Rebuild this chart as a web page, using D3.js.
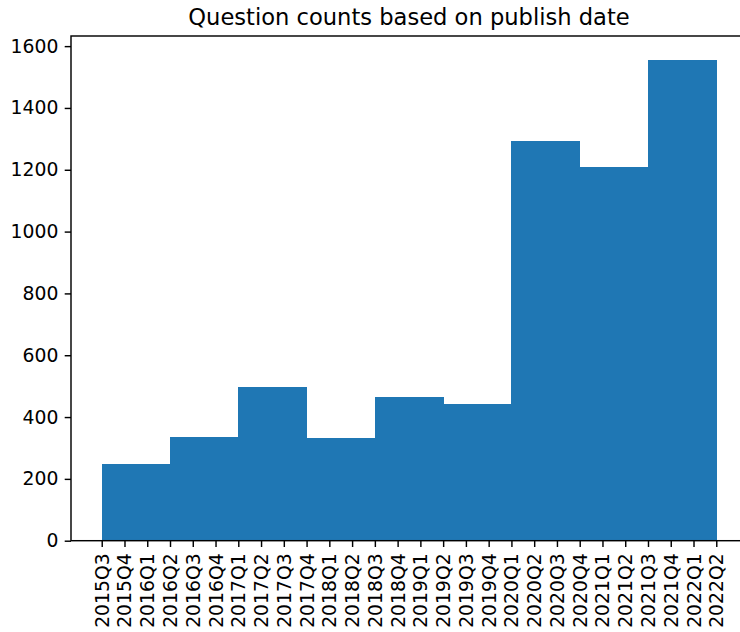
<!DOCTYPE html>
<html><head><meta charset="utf-8">
<script src="https://cdn.jsdelivr.net/npm/d3@7"></script>
<style>body{margin:0;background:#fff}svg{display:block}text{font-family:"DejaVu Sans",sans-serif;fill:#000}</style>
</head><body><svg id="c" width="740" height="632"></svg>
<script>
const quarters = ["2015Q3","2015Q4","2016Q1","2016Q2","2016Q3","2016Q4","2017Q1","2017Q2","2017Q3","2017Q4","2018Q1","2018Q2","2018Q3","2018Q4","2019Q1","2019Q2","2019Q3","2019Q4","2020Q1","2020Q2","2020Q3","2020Q4","2021Q1","2021Q2","2021Q3","2021Q4","2022Q1","2022Q2"];
const binEdges = ["2015Q3","2016Q2","2017Q1","2017Q4","2018Q3","2019Q2","2020Q1","2020Q4","2021Q3","2022Q2"];
const binCounts = [248,336,497,332,465,442,1293,1209,1555];
const yTicks = [0,200,400,600,800,1000,1200,1400,1600];
const title = "Question counts based on publish date";

const svg = d3.select("#c");
const L = 71, R = 747, T = 36, B = 540.7;
const n = quarters.length - 1;
const mx = n * 0.05;
const x = d3.scaleLinear().domain([-mx, n + mx]).range([L, R]);
const ymax = d3.max(binCounts) * 1.05;
const y = d3.scaleLinear().domain([0, ymax]).range([B, T]);
const idx = q => quarters.indexOf(q);

svg.append("g").selectAll("rect").data(binCounts).join("rect")
  .attr("x", (d,i) => x(idx(binEdges[i])))
  .attr("width", (d,i) => x(idx(binEdges[i+1])) - x(idx(binEdges[i])) + 0.6)
  .attr("y", d => y(d))
  .attr("height", d => B - y(d))
  .attr("fill", "#1f77b4")
  .attr("shape-rendering", "crispEdges");

const FS = 18.8;
const xAxis = d3.axisBottom(x).tickValues(d3.range(quarters.length)).tickFormat(i => quarters[i]).tickSize(6.3).tickPadding(6.3);
const gx = svg.append("g").attr("transform", `translate(0,${B})`).call(xAxis);
gx.select(".domain").remove();
gx.selectAll(".tick line").attr("stroke", "#000").attr("stroke-width", 1.44);
gx.selectAll(".tick text").attr("font-size", FS).attr("font-family", "DejaVu Sans")
  .attr("text-anchor", "end").attr("dy", null)
  .attr("transform", "translate(0,12.6) rotate(-90)").attr("y", 0).attr("x", 0)
  .attr("dominant-baseline", "central");

const yAxis = d3.axisLeft(y).tickValues(yTicks).tickFormat(d3.format("d")).tickSize(6.3).tickPadding(6.3);
const gy = svg.append("g").attr("transform", `translate(${L},0)`).call(yAxis);
gy.select(".domain").remove();
gy.selectAll(".tick line").attr("stroke", "#000").attr("stroke-width", 1.44);
gy.selectAll(".tick text").attr("font-size", FS).attr("font-family", "DejaVu Sans");

svg.append("rect").attr("x", L).attr("y", T).attr("width", R - L).attr("height", B - T)
  .attr("fill", "none").attr("stroke", "#000").attr("stroke-width", 1.44);

svg.append("text").attr("x", (L + R) / 2).attr("y", T - 10.8).attr("text-anchor", "middle")
  .attr("font-size", 22.6).text(title);
</script></body></html>
